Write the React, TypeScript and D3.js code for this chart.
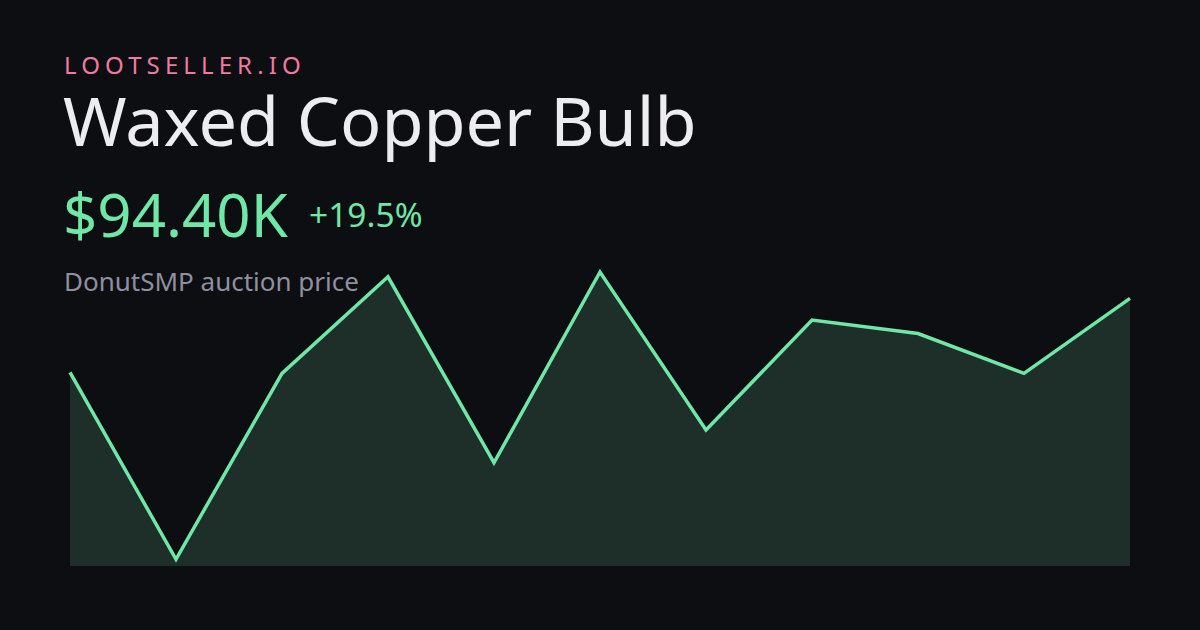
import React from "react";
import * as d3 from "d3";

const brand = "LOOTSELLER.IO";
const title = "Waxed Copper Bulb";
const priceLabel = "$94.40K";
const changeLabel = "+19.5%";
const subtitle = "DonutSMP auction price";

const periods = [0, 1, 2, 3, 4, 5, 6, 7, 8, 9, 10];
const prices = [79.0, 40.1, 78.8, 98.9, 60.2, 99.9, 67.0, 89.9, 87.1, 78.8, 94.4];

const W = 1200;
const H = 630;

export default function App() {
  const x = d3.scaleLinear().domain(d3.extent(periods) as [number, number]).range([70, 1130]);
  const y = d3.scaleLinear().domain(d3.extent(prices) as [number, number]).range([559.3, 272]);
  const data = periods.map((p, i) => ({ p, v: prices[i] }));
  const line = d3.line<{ p: number; v: number }>().x((d) => x(d.p)).y((d) => y(d.v));
  const area = d3
    .area<{ p: number; v: number }>()
    .x((d) => x(d.p))
    .y0(566)
    .y1((d) => y(d.v));
  const font = "'Noto Sans', 'Open Sans', sans-serif";
  return (
    <svg width={W} height={H} style={{ position: "fixed", left: 0, top: 0, display: "block" }}>
      <rect x={0} y={0} width={W} height={H} fill="#0d0e11" />
      <path d={area(data) || ""} fill="#1e2f2a" />
      <path d={line(data) || ""} fill="none" stroke="#6ee7a7" strokeWidth={3.5} strokeLinejoin="miter" />
      <text x={64} y={74} fill="#f07aa0" fontFamily={font} fontSize={24} letterSpacing={5.1}>
        {brand}
      </text>
      <text x={63} y={146} fill="#ececf1" fontFamily={font} fontSize={68.4}>
        {title}
      </text>
      <text x={63} y={237} fill="#6ee7a7" fontFamily={font} fontSize={60}>
        {priceLabel}
      </text>
      <text x={309} y={227} fill="#6ee7a7" fontFamily={font} fontSize={33.5}>
        {changeLabel}
      </text>
      <text x={64} y={291} fill="#8e90a0" fontFamily={font} fontSize={26}>
        {subtitle}
      </text>
    </svg>
  );
}
